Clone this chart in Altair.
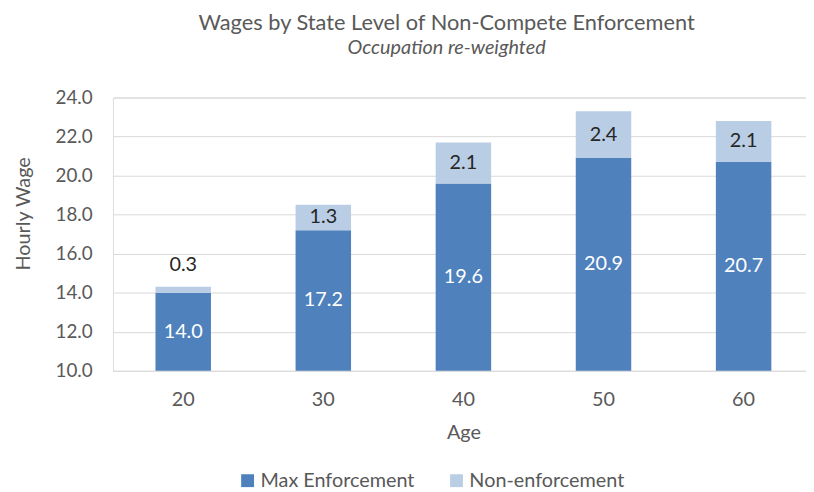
import altair as alt
import pandas as pd

ages = ["20", "30", "40", "50", "60"]
max_enf = [14.0, 17.2, 19.6, 20.9, 20.7]
non_enf = [0.3, 1.3, 2.1, 2.4, 2.1]
series = ["Max Enforcement", "Non-enforcement"]
colors = ["#4f81bd", "#b9cde5"]
y_ticks = [10, 12, 14, 16, 18, 20, 22, 24]
y_min = 10

rows = []
for a, m, n in zip(ages, max_enf, non_enf):
    rows.append({"age": a, "series": series[0], "lo": y_min, "hi": m, "value": m})
    rows.append({"age": a, "series": series[1], "lo": m, "hi": m + n, "value": n})
df = pd.DataFrame(rows)
df["mid"] = (df["lo"] + df["hi"]) / 2

FONT = "Lato"
GRAY = "#595959"

xscale = alt.Scale(paddingInner=0.604, paddingOuter=0.2755, align=0.551)
xaxis = alt.Axis(
    title="Age", labelAngle=0, ticks=False, domain=False,
    labelFontSize=20, labelColor=GRAY, labelFont=FONT, labelPadding=19,
    titleFontSize=20, titleColor=GRAY, titleFont=FONT, titleFontWeight="normal",
    titleX=354, titleY=62, titleBaseline="middle", titleAlign="center",
)
yscale = alt.Scale(domain=[10, 24], nice=False, zero=False)
yaxis = alt.Axis(
    title="Hourly Wage", values=y_ticks, format=".1f", ticks=False, domain=False,
    grid=True, gridColor="#d9d9d9", labelOverlap=False, labelBound=False,
    labelFontSize=19, labelColor=GRAY, labelFont=FONT, labelPadding=21,
    titleFontSize=20, titleColor=GRAY, titleFont=FONT, titleFontWeight="normal",
    titleAngle=270, titleX=-90, titleY=117, titleAlign="center", titleBaseline="middle",
)

tx = alt.X("age:N", sort=ages, scale=xscale, axis=xaxis)

bars = alt.Chart(df).mark_bar().encode(
    x=tx,
    y=alt.Y("lo:Q", scale=yscale, axis=yaxis),
    y2="hi:Q",
    color=alt.Color(
        "series:N",
        sort=series,
        scale=alt.Scale(domain=series, range=colors),
        legend=alt.Legend(
            title=None, orient="none", legendX=126, legendY=377, direction="horizontal",
            symbolType="square", symbolSize=169, symbolStrokeWidth=0,
            labelFontSize=20, labelColor=GRAY, labelFont=FONT, labelOffset=3,
            columnPadding=32,
        ),
    ),
)

text_max = alt.Chart(df).transform_filter(alt.datum.series == series[0]).mark_text(
    color="white", fontSize=20, font=FONT, baseline="middle"
).encode(
    x=tx,
    y=alt.Y("mid:Q", scale=yscale, axis=yaxis),
    text=alt.Text("value:Q", format=".1f"),
)

text_non_in = alt.Chart(df).transform_filter(
    (alt.datum.series == series[1]) & (alt.datum.value >= 1)
).mark_text(color="#262626", fontSize=20, font=FONT, baseline="middle").encode(
    x=tx,
    y=alt.Y("mid:Q", scale=yscale, axis=yaxis),
    text=alt.Text("value:Q", format=".1f"),
)

text_non_out = alt.Chart(df).transform_filter(
    (alt.datum.series == series[1]) & (alt.datum.value < 1)
).mark_text(color="#262626", fontSize=20, font=FONT, baseline="middle", dy=-22).encode(
    x=tx,
    y=alt.Y("hi:Q", scale=yscale, axis=yaxis),
    text=alt.Text("value:Q", format=".1f"),
)

chart = alt.layer(bars, text_max, text_non_in, text_non_out).properties(
    width=700,
    height=276,
    autosize=alt.AutoSizeParams(type="none"),
    padding={"left": 106, "top": 88, "right": 0, "bottom": 118},
    title=alt.TitleParams(
        text="Wages by State Level of Non-Compete Enforcement",
        subtitle="Occupation re-weighted",
        anchor="middle", dx=-13, offset=30,
        font=FONT, fontSize=22, fontWeight="normal", color=GRAY,
        subtitleFont=FONT, subtitleFontSize=20, subtitleFontStyle="italic",
        subtitleColor=GRAY, subtitlePadding=3,
    ),
).configure_view(stroke=None).configure(background="white").configure_axisY(labelOverlap=False)

chart.save("out.html", embed_options={"renderer": "svg", "actions": False})
